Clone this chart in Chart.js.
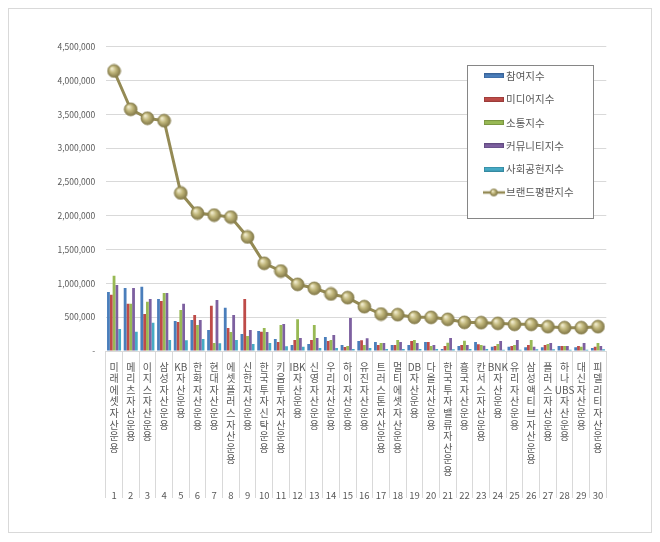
<!DOCTYPE html>
<html><head><meta charset="utf-8">
<script src="https://cdn.jsdelivr.net/npm/chart.js@4.4.1/dist/chart.umd.min.js"></script>
<style>
html,body{margin:0;padding:0;background:#fff;}
#wrap{position:relative;width:660px;height:542px;}
#frame{position:absolute;left:8px;top:8px;width:644px;height:525px;border:1px solid #D9D9D9;box-sizing:border-box;}
#c{position:absolute;left:0;top:0;}
</style></head><body>
<div id="wrap"><div id="frame"></div><canvas id="c" width="660" height="542"></canvas></div>
<script>
const categories = ['미래에셋자산운용','메리츠자산운용','이지스자산운용','삼성자산운용','KB자산운용','한화자산운용','현대자산운용','에셋플러스자산운용','신한자산운용','한국투자신탁운용','키움투자자산운용','IBK자산운용','신영자산운용','우리자산운용','하이자산운용','유진자산운용','트러스톤자산운용','멀티에셋자산운용','DB자산운용','다올자산운용','한국투자밸류자산운용','흥국자산운용','칸서스자산운용','BNK자산운용','유리자산운용','삼성액티브자산운용','플러스자산운용','하나UBS자산운용','대신자산운용','피델리티자산운용'];
const ranks = ['1','2','3','4','5','6','7','8','9','10','11','12','13','14','15','16','17','18','19','20','21','22','23','24','25','26','27','28','29','30'];
const seriesNames = ['참여지수','미디어지수','소통지수','커뮤니티지수','사회공헌지수','브랜드평판지수'];
const participation = [873000,932000,951000,769000,444000,458000,311000,641000,251000,296000,177000,89000,104000,207000,89000,148000,133000,89000,89000,133000,30000,74000,133000,64000,64000,54000,54000,74000,54000,44000];
const media = [833000,700000,547000,740000,429000,532000,670000,340000,769000,286000,133000,163000,163000,148000,59000,158000,89000,89000,148000,133000,74000,89000,99000,74000,74000,89000,89000,74000,74000,64000];
const communication = [1114000,700000,730000,858000,606000,385000,118000,281000,222000,340000,385000,468000,385000,163000,74000,89000,118000,163000,163000,74000,123000,153000,89000,104000,89000,163000,104000,74000,64000,118000];
const community = [976000,932000,769000,858000,700000,458000,754000,532000,311000,281000,400000,192000,192000,237000,488000,187000,118000,133000,118000,89000,192000,89000,79000,148000,163000,64000,118000,74000,118000,74000];
const social = [325000,286000,419000,163000,158000,177000,113000,163000,104000,118000,69000,64000,44000,44000,30000,44000,30000,30000,30000,30000,25000,30000,30000,20000,20000,25000,25000,20000,20000,25000];
const brand = [4141000,3575000,3442000,3405000,2337000,2040000,2010000,1980000,1686000,1297000,1183000,986000,927000,843000,789000,656000,547000,537000,498000,498000,468000,424000,419000,409000,394000,394000,360000,345000,345000,360000];
const yTicks = {min:0, max:4500000, step:500000};

const FONT = "'Noto Sans CJK KR','Noto Sans',sans-serif";
const TXT = '#595959';
const barColors = ['#4A7EBB','#BE4B48','#98B954','#7D60A0','#46AAC5'];
const barEdges  = ['#3A6499','#9B3B39','#7A9641','#634C82','#3589A0'];
const lineColor = '#948A54';

function makeMarker(r){
  const s = Math.ceil(r*2+2);
  const c = document.createElement('canvas'); c.width = s; c.height = s;
  const g = c.getContext('2d');
  const cx = s/2, cy = s/2;
  const grad = g.createRadialGradient(cx - r*0.35, cy - r*0.4, r*0.1, cx, cy, r);
  grad.addColorStop(0,'#EFEACB'); grad.addColorStop(0.45,'#C0B67A'); grad.addColorStop(1,'#807646');
  g.fillStyle = grad; g.beginPath(); g.arc(cx, cy, r, 0, Math.PI*2); g.fill();
  g.strokeStyle = '#8A814F'; g.lineWidth = 0.7; g.stroke();
  return c;
}
function makeSwatch(fill, edge){
  const c = document.createElement('canvas'); c.width = 20; c.height = 5;
  const g = c.getContext('2d');
  g.fillStyle = fill; g.fillRect(0,0,20,5);
  g.strokeStyle = edge; g.lineWidth = 1; g.strokeRect(0.5,0.5,19,4);
  return c;
}
function makeLineSwatch(){
  const c = document.createElement('canvas'); c.width = 22; c.height = 10;
  const g = c.getContext('2d');
  g.strokeStyle = lineColor; g.lineWidth = 2.5; g.beginPath(); g.moveTo(0,5); g.lineTo(22,5); g.stroke();
  const m = makeMarker(3.6);
  g.drawImage(m, 11 - m.width/2, 5 - m.height/2);
  return c;
}
const marker = makeMarker(6.5);
const swatches = barColors.map((c,i)=>makeSwatch(c, barEdges[i])).concat([makeLineSwatch()]);

const labelLines = categories.map(s => s.match(/[A-Za-z]+|./g));
const barSeries = [participation, media, communication, community, social];

const datasets = barSeries.map((d,i)=>({
  type:'bar', label: seriesNames[i], data: d, backgroundColor: barColors[i],
  borderWidth:0, categoryPercentage:0.84, barPercentage:1.0, order:1, xAxisID:'x', yAxisID:'y'
}));
datasets.push({
  type:'line', label: seriesNames[5], data: brand, borderColor: lineColor, borderWidth:3,
  pointStyle: marker, pointRadius:6.5, tension:0, order:0, xAxisID:'x', yAxisID:'y'
});

const legendBox = {
  id:'legendBox',
  beforeDraw(chart){
    const lg = chart.legend; if(!lg) return;
    lg.left = 474; lg.top = 57.9; lg.right = lg.left + lg.width; lg.bottom = lg.top + lg.height;
  },
  afterDraw(chart){
    const ctx = chart.ctx; const lg = chart.legend;
    ctx.save();
    ctx.fillStyle = '#FFFFFF'; ctx.fillRect(467.5,65.5,126,153);
    ctx.strokeStyle = '#868686'; ctx.lineWidth = 1; ctx.strokeRect(467.5,65.5,126,153);
    ctx.restore();
    lg.draw();
  }
};

new Chart(document.getElementById('c'), {
  type:'bar',
  data:{ labels: labelLines, datasets },
  options:{
    responsive:false, animation:false, devicePixelRatio:1,
    layout:{ padding:{ left:0, right:53.7, top:46.7, bottom:41 } },
    plugins:{
      tooltip:{enabled:false},
      legend:{
        position:'chartArea', align:'start',
        labels:{
          usePointStyle:true, pointStyleWidth:14, padding:12.8, color:TXT,
          font:{family:FONT, size:10.5, lineHeight:1.2},
          generateLabels: chart => chart.data.datasets.map((ds,i)=>({
            text: ds.label, pointStyle: swatches[i], fillStyle:'rgba(0,0,0,0)', strokeStyle:'rgba(0,0,0,0)',
            lineWidth:0, hidden:false, datasetIndex:i, fontColor:TXT
          }))
        }
      }
    },
    scales:{
      x:{
        type:'category', position:'bottom', offset:true, weight:0,
        grid:{ display:true, drawOnChartArea:false, drawTicks:true, tickLength:147, offset:true, color:'#D9D9D9', lineWidth:1 },
        border:{ display:true, color:'#D9D9D9' },
        ticks:{ autoSkip:false, maxRotation:0, minRotation:0, padding:-137, color:TXT, font:{family:FONT, size:10, lineHeight:1.16} },
        afterFit: s => { s.height = 126; }
      },
      x2:{
        type:'category', labels: ranks, position:'bottom', offset:true, weight:1,
        grid:{ display:false }, border:{ display:false },
        ticks:{ autoSkip:false, maxRotation:0, padding:5, color:TXT, font:{family:FONT, size:9.5, lineHeight:1.2} },
        afterFit: s => { s.height = 24; }
      },
      y:{
        min:yTicks.min, max:yTicks.max,
        grid:{ color:'#D9D9D9', drawTicks:false },
        border:{ display:false },
        ticks:{ stepSize:yTicks.step, padding:10.5, color:TXT, font:{family:FONT, size:8.5},
          callback: v => v === 0 ? '-' : v.toLocaleString('en-US') },
        afterFit: s => { s.width = 105.7; }
      }
    }
  },
  plugins:[legendBox]
});
</script>
</body></html>
